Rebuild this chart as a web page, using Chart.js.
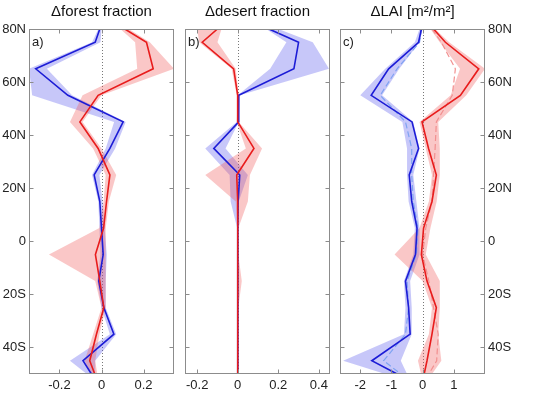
<!DOCTYPE html>
<html>
<head>
<meta charset="utf-8">
<script src="https://cdn.jsdelivr.net/npm/chart.js@4/dist/chart.umd.min.js"></script>
<style>
  html, body { margin: 0; padding: 0; background: #fff; }
  #wrap { position: relative; width: 536px; height: 393px; }
  canvas { position: absolute; top: 0; }
</style>
</head>
<body>
<div id="wrap">
  <canvas id="chartA" width="178" height="393" style="left:0px"></canvas>
  <canvas id="chartB" width="153" height="393" style="left:181px"></canvas>
  <canvas id="chartC" width="200" height="393" style="left:336px"></canvas>
</div>
<script>
// latitude of every profile point (deg, N positive)
const LAT = [80, 75, 65, 55, 45, 35, 25, 15, 5, -5, -15, -25, -35, -45, -50];
const LAT_TICKS = [80, 60, 40, 20, 0, -20, -40];
const LAT_LABELS = ['80N', '60N', '40N', '20N', '0', '20S', '40S'];

// a) forest fraction
const FOREST_TICKS = [-0.2, 0, 0.2];
const FOREST_BLUE = [-0.008, -0.03, -0.313, -0.16, 0.103, 0.04, -0.035, -0.008, 0.0, 0.008, -0.013, 0.011, 0.059, -0.088, -0.048];
const FOREST_RED = [0.111, 0.214, 0.246, -0.016, -0.103, -0.016, 0.04, 0.024, 0.01, -0.029, -0.008, 0.011, -0.024, -0.056, -0.032];
const FOREST_BLUE_LO = [-0.015, -0.045, -0.345, -0.33, 0.06, 0.02, -0.045, -0.015, -0.01, -0.005, -0.02, 0.0, 0.04, -0.15, -0.07];
const FOREST_BLUE_HI = [0.0, -0.005, -0.26, -0.14, 0.115, 0.065, -0.01, 0.005, 0.015, 0.025, 0.02, 0.02, 0.07, -0.03, -0.03];
const FOREST_RED_LO = [0.09, 0.16, 0.17, -0.09, -0.15, -0.04, 0.02, 0.01, -0.01, -0.25, -0.03, 0.0, -0.04, -0.08, -0.05];
const FOREST_RED_HI = [0.13, 0.23, 0.345, 0.0, -0.09, 0.0, 0.07, 0.035, 0.02, 0.02, 0.02, 0.02, -0.01, -0.03, -0.02];

// b) desert fraction
const DESERT_TICKS = [-0.2, 0, 0.2, 0.4];
const DESERT_BLUE = [0.154, 0.30, 0.277, 0.005, 0.005, -0.118, 0.01, 0.002, 0, 0, 0, 0, 0, 0, 0];
const DESERT_RED = [-0.10, -0.175, -0.02, 0, 0, 0.08, -0.005, 0, 0, 0, 0, 0, 0, 0, 0];
const DESERT_BLUE_LO = [0.14, 0.24, 0.16, 0.0, -0.005, -0.16, -0.04, -0.035, -0.003, -0.003, -0.003, -0.003, -0.003, -0.003, -0.003];
const DESERT_BLUE_HI = [0.2, 0.37, 0.45, 0.01, 0.005, -0.06, 0.05, 0.005, 0.003, 0.003, 0.003, 0.003, 0.003, 0.003, 0.003];
const DESERT_RED_LO = [-0.20, -0.19, -0.03, -0.005, -0.005, 0.04, -0.16, -0.01, -0.003, -0.003, -0.003, -0.003, -0.003, -0.003, -0.003];
const DESERT_RED_HI = [-0.08, -0.10, -0.01, 0.005, 0.005, 0.12, 0.06, 0.05, 0.003, 0.003, 0.02, 0.003, 0.003, 0.003, 0.003];

// c) LAI
const LAI_TICKS = [-2, -1, 0, 1];
const LAI_BLUE = [-0.04, -0.13, -1.09, -1.65, -0.34, -0.13, -0.43, -0.35, -0.18, -0.23, -0.55, -0.45, -0.4, -1.63, -0.82];
const LAI_RED = [0.35, 0.73, 1.8, 1.21, -0.02, 0.19, 0.44, 0.3, 0.03, -0.04, 0.14, 0.44, 0.3, 0.14, 0.05];
const LAI_BLUE_DASH = [-0.04, -0.1, -0.82, -1.36, -0.55, -0.35, -0.35, -0.3, -0.15, -0.2, -0.5, -0.45, -0.55, -1.25, -0.7];
const LAI_RED_DASH = [0.3, 0.6, 1.05, 0.95, 0.44, 0.4, 0.35, 0.3, 0.1, 0.0, 0.2, 0.35, 0.5, 0.45, 0.2];
const LAI_BLUE_LO = [-0.1, -0.25, -1.2, -2.0, -0.65, -0.5, -0.5, -0.45, -0.25, -0.3, -0.6, -0.55, -0.6, -2.55, -1.2];
const LAI_BLUE_HI = [0.0, -0.1, -0.75, -1.3, -0.3, -0.1, -0.3, -0.2, -0.1, -0.1, -0.4, -0.35, -0.35, -0.7, -0.5];
const LAI_RED_LO = [0.25, 0.55, 1.2, 0.9, -0.1, 0.1, 0.3, 0.2, -0.1, -0.9, 0.0, 0.3, 0.2, -0.15, -0.05];
const LAI_RED_HI = [0.4, 0.85, 2.0, 1.4, 0.5, 0.55, 0.55, 0.45, 0.25, 0.1, 0.55, 0.55, 0.5, 0.6, 0.3];

const BLUE = '#1c1cd6';
const RED = '#e81c1c';
const BLUE_BAND = 'rgba(80, 80, 235, 0.32)';
const RED_BAND = 'rgba(240, 80, 80, 0.32)';

Chart.defaults.font.family = "'Liberation Sans', Arial, sans-serif";
Chart.defaults.color = '#222';

const pts = vals => vals.map((v, i) => ({ x: v, y: LAT[i] }));

// frame, inward ticks, dotted zero line and panel letter
const framePlugin = {
  id: 'frame',
  beforeDatasetsDraw(chart) {
    const { ctx, chartArea: a, scales: { x } } = chart;
    const x0 = Math.round(x.getPixelForValue(0)) + 0.5;
    ctx.save();
    ctx.strokeStyle = '#777';
    ctx.lineWidth = 1;
    ctx.setLineDash([1, 2]);
    ctx.beginPath();
    ctx.moveTo(x0, a.top);
    ctx.lineTo(x0, a.bottom);
    ctx.stroke();
    ctx.restore();
  },
  afterDraw(chart, args, opts) {
    const { ctx, chartArea: a, scales: { x, y } } = chart;
    ctx.save();
    ctx.strokeStyle = '#8c8c8c';
    ctx.lineWidth = 1;
    const l = Math.round(a.left) + 0.5, r = Math.round(a.right) - 0.5;
    const t = Math.round(a.top) + 0.5, b = Math.round(a.bottom) - 0.5;
    ctx.strokeRect(l, t, r - l, b - t);
    ctx.beginPath();
    LAT_TICKS.forEach(v => {
      const py = Math.round(y.getPixelForValue(v)) + 0.5;
      ctx.moveTo(l, py); ctx.lineTo(l + 4, py);
      ctx.moveTo(r, py); ctx.lineTo(r - 4, py);
    });
    x.ticks.forEach(tk => {
      const px = Math.round(x.getPixelForValue(tk.value)) + 0.5;
      ctx.moveTo(px, b); ctx.lineTo(px, b - 4);
      ctx.moveTo(px, t); ctx.lineTo(px, t + 4);
    });
    ctx.stroke();
    ctx.fillStyle = '#222';
    ctx.font = "13px 'Liberation Sans', Arial, sans-serif";
    ctx.textBaseline = 'alphabetic';
    ctx.fillText(opts.letter, a.left + 3, a.top + 17);
    ctx.restore();
  }
};

function makePanel(id, cfg) {
  const datasets = [
    { data: pts(cfg.blueLo), borderWidth: 0, pointRadius: 0, fill: false, order: 5 },
    { data: pts(cfg.blueHi), borderWidth: 0, pointRadius: 0, fill: '-1', backgroundColor: BLUE_BAND, order: 5 },
    { data: pts(cfg.redLo), borderWidth: 0, pointRadius: 0, fill: false, order: 4 },
    { data: pts(cfg.redHi), borderWidth: 0, pointRadius: 0, fill: '-1', backgroundColor: RED_BAND, order: 4 }
  ];
  if (cfg.blueDash) {
    datasets.push({ data: pts(cfg.blueDash), borderColor: '#7fa3f2', borderWidth: 1.2, borderDash: [6, 3], pointRadius: 0, fill: false, order: 3 });
    datasets.push({ data: pts(cfg.redDash), borderColor: '#f29090', borderWidth: 1.2, borderDash: [6, 3], pointRadius: 0, fill: false, order: 2 });
  }
  datasets.push({ data: pts(cfg.blue), borderColor: BLUE, borderWidth: 1.6, pointRadius: 0, fill: false, order: 1 });
  datasets.push({ data: pts(cfg.red), borderColor: RED, borderWidth: 1.6, pointRadius: 0, fill: false, order: 0 });

  return new Chart(document.getElementById(id), {
    type: 'line',
    data: { datasets },
    options: {
      indexAxis: 'y',
      responsive: false,
      animation: false,
      layout: { padding: cfg.padding },
      plugins: {
        legend: { display: false },
        tooltip: { enabled: false },
        title: {
          display: true,
          text: cfg.title,
          fullSize: false,
          color: '#111',
          font: { size: 15, weight: 'normal' },
          padding: { top: 3, bottom: 8 }
        },
        frame: { letter: cfg.letter }
      },
      scales: {
        x: {
          type: 'linear',
          position: 'bottom',
          min: cfg.xMin,
          max: cfg.xMax,
          afterBuildTicks: s => { s.ticks = cfg.xTicks.map(v => ({ value: v })); },
          afterFit: s => { s.height = 19; },
          ticks: { font: { size: 13 }, padding: 4, maxRotation: 0, callback: v => String(v) },
          grid: { display: false, drawTicks: false },
          border: { display: false }
        },
        y: {
          type: 'linear',
          position: cfg.yPos,
          min: -50,
          max: 80,
          afterBuildTicks: s => { s.ticks = LAT_TICKS.map(v => ({ value: v })); },
          afterFit: s => { s.width = cfg.yWidth; },
          ticks: {
            display: cfg.yLabels,
            font: { size: 13 },
            padding: 3,
            callback: v => LAT_LABELS[LAT_TICKS.indexOf(v)]
          },
          grid: { display: false, drawTicks: false },
          border: { display: false }
        }
      }
    },
    plugins: [framePlugin]
  });
}

makePanel('chartA', {
  title: '\u0394forest fraction', letter: 'a)',
  xMin: -0.345, xMax: 0.345, xTicks: FOREST_TICKS,
  yPos: 'left', yWidth: 29, yLabels: true,
  padding: { left: 0, right: 4, top: 0, bottom: 0 },
  blue: FOREST_BLUE, red: FOREST_RED,
  blueLo: FOREST_BLUE_LO, blueHi: FOREST_BLUE_HI, redLo: FOREST_RED_LO, redHi: FOREST_RED_HI
});

makePanel('chartB', {
  title: '\u0394desert fraction', letter: 'b)',
  xMin: -0.26, xMax: 0.455, xTicks: DESERT_TICKS,
  yPos: 'left', yWidth: 0, yLabels: false,
  padding: { left: 4, right: 4, top: 0, bottom: 0 },
  blue: DESERT_BLUE, red: DESERT_RED,
  blueLo: DESERT_BLUE_LO, blueHi: DESERT_BLUE_HI, redLo: DESERT_RED_LO, redHi: DESERT_RED_HI
});

makePanel('chartC', {
  title: '\u0394LAI [m\u00b2/m\u00b2]', letter: 'c)',
  xMin: -2.65, xMax: 2.0, xTicks: LAI_TICKS,
  yPos: 'right', yWidth: 51, yLabels: true,
  padding: { left: 4, right: 0, top: 0, bottom: 0 },
  blue: LAI_BLUE, red: LAI_RED, blueDash: LAI_BLUE_DASH, redDash: LAI_RED_DASH,
  blueLo: LAI_BLUE_LO, blueHi: LAI_BLUE_HI, redLo: LAI_RED_LO, redHi: LAI_RED_HI
});
</script>
</body>
</html>
